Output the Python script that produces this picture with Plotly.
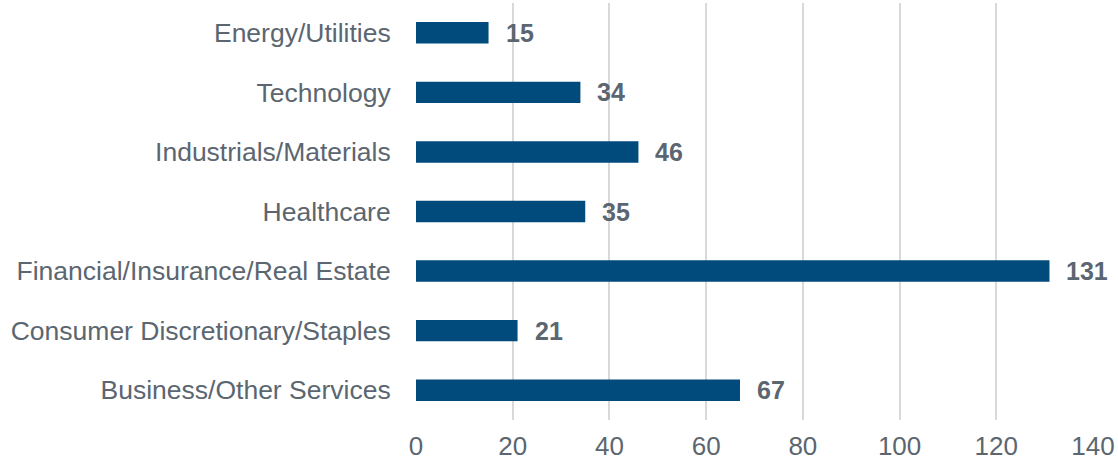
import plotly.graph_objects as go

categories = ["Business/Other Services", "Consumer Discretionary/Staples",
              "Financial/Insurance/Real Estate", "Healthcare",
              "Industrials/Materials", "Technology", "Energy/Utilities"]
values = [67, 21, 131, 35, 46, 34, 15]
x_ticks = [0, 20, 40, 60, 80, 100, 120, 140]

bar_color = "#004B7C"
text_color = "#5B6670"
font_family = "Liberation Sans, Arial"

fig = go.Figure(go.Bar(
    y=categories, x=values, orientation="h",
    marker=dict(color=bar_color, line=dict(width=0)),
    width=0.36, hoverinfo="skip",
))

for c, v in zip(categories, values):
    fig.add_annotation(x=v, y=c, text=f"<b>{v}</b>", showarrow=False,
                       xanchor="left", xshift=15,
                       font=dict(family=font_family, size=25, color=text_color))

fig.update_layout(
    width=1118, height=462,
    margin=dict(l=416, r=25, t=3, b=42),
    plot_bgcolor="white", paper_bgcolor="white",
    showlegend=False,
    font=dict(family=font_family, color=text_color),
    xaxis=dict(range=[0, 140], tickvals=x_ticks, showgrid=True, gridcolor="#D9D9D9",
               gridwidth=1.5, zeroline=False, showline=False, automargin=False,
               tickfont=dict(size=26, color=text_color), ticks="outside",
               ticklen=3, tickcolor="rgba(0,0,0,0)"),
    yaxis=dict(categoryorder="array", categoryarray=categories, showgrid=False,
               tickfont=dict(size=26.5, color=text_color), ticks="outside", automargin=False,
               ticklen=19, tickcolor="rgba(0,0,0,0)", showline=False, zeroline=False,
               range=[-0.5, 6.5]),
)
fig.write_html("out.html", config={"displayModeBar": False},
               post_script="document.body.style.margin='0';document.body.style.overflow='hidden';")
